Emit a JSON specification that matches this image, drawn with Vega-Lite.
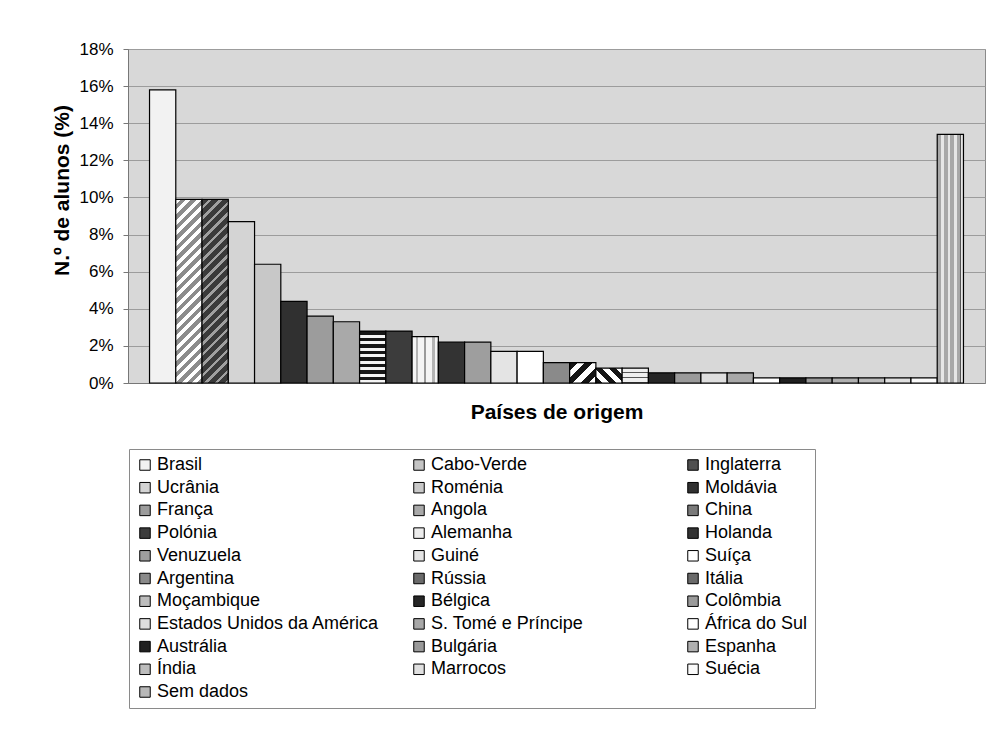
{
  "$schema": "https://vega.github.io/schema/vega-lite/v6.json",
  "width": 857,
  "height": 334,
  "autosize": "none",
  "padding": {"left": 128, "top": 49, "right": 3, "bottom": 348},
  "background": "white",
  "config": {
    "font": "Liberation Sans",
    "view": {"fill": "#d8d8d8", "stroke": "#8a8a8a", "strokeWidth": 1}
  },
  "data": {
    "values": [
      {"pais": "Brasil", "pct": 15.8},
      {"pais": "Cabo-Verde", "pct": 9.9},
      {"pais": "Inglaterra", "pct": 9.9},
      {"pais": "Ucrânia", "pct": 8.7},
      {"pais": "Roménia", "pct": 6.4},
      {"pais": "Moldávia", "pct": 4.4},
      {"pais": "França", "pct": 3.6},
      {"pais": "Angola", "pct": 3.3},
      {"pais": "China", "pct": 2.8},
      {"pais": "Polónia", "pct": 2.8},
      {"pais": "Alemanha", "pct": 2.5},
      {"pais": "Holanda", "pct": 2.2},
      {"pais": "Venuzuela", "pct": 2.2},
      {"pais": "Guiné", "pct": 1.7},
      {"pais": "Suíça", "pct": 1.7},
      {"pais": "Argentina", "pct": 1.1},
      {"pais": "Rússia", "pct": 1.1},
      {"pais": "Itália", "pct": 0.8},
      {"pais": "Moçambique", "pct": 0.8},
      {"pais": "Bélgica", "pct": 0.55},
      {"pais": "Colômbia", "pct": 0.55},
      {"pais": "Estados Unidos da América", "pct": 0.55},
      {"pais": "S. Tomé e Príncipe", "pct": 0.55},
      {"pais": "África do Sul", "pct": 0.28},
      {"pais": "Austrália", "pct": 0.28},
      {"pais": "Bulgária", "pct": 0.28},
      {"pais": "Espanha", "pct": 0.28},
      {"pais": "Índia", "pct": 0.28},
      {"pais": "Marrocos", "pct": 0.28},
      {"pais": "Suécia", "pct": 0.28},
      {"pais": "Sem dados", "pct": 13.4}
    ]
  },
  "mark": {"type": "bar", "stroke": "black", "strokeWidth": 1.2},
  "encoding": {
    "x": {
      "field": "pais",
      "type": "nominal",
      "sort": null,
      "scale": {"paddingInner": 0, "paddingOuter": 0.82},
      "axis": {
        "labels": false,
        "ticks": false,
        "domainColor": "#777777",
        "title": "Países de origem",
        "titleFont": "Liberation Sans",
        "titleFontSize": 21,
        "titleFontWeight": "bold",
        "titleColor": "black",
        "titlePadding": 18
      }
    },
    "y": {
      "field": "pct",
      "type": "quantitative",
      "scale": {"domain": [0, 18], "nice": false},
      "axis": {
        "values": [0, 2, 4, 6, 8, 10, 12, 14, 16, 18],
        "labelExpr": "datum.value + '%'",
        "labelFont": "Liberation Sans",
        "labelFontSize": 17,
        "labelColor": "black",
        "labelPadding": 10,
        "tickSize": 5,
        "tickColor": "#777777",
        "domainColor": "#777777",
        "gridColor": "#9c9c9c",
        "gridWidth": 1,
        "title": "N.º de alunos (%)",
        "titleFont": "Liberation Sans",
        "titleFontSize": 21,
        "titleFontWeight": "bold",
        "titleColor": "black",
        "titlePadding": 6,
        "titleY": 141
      }
    },
    "fill": {
      "condition": [
        {
          "test": "datum.pais === 'Cabo-Verde'",
          "value": {
            "gradient": "linear", "x1": 0, "y1": 0, "x2": 0.1604, "y2": 1.1203,
            "stops": [
              {"offset": 0, "color": "#ffffff"}, {"offset": 0.025, "color": "#ffffff"}, {"offset": 0.025, "color": "#8c8c8c"}, {"offset": 0.05, "color": "#8c8c8c"},
              {"offset": 0.05, "color": "#ffffff"}, {"offset": 0.075, "color": "#ffffff"}, {"offset": 0.075, "color": "#8c8c8c"}, {"offset": 0.1, "color": "#8c8c8c"},
              {"offset": 0.1, "color": "#ffffff"}, {"offset": 0.125, "color": "#ffffff"}, {"offset": 0.125, "color": "#8c8c8c"}, {"offset": 0.15, "color": "#8c8c8c"},
              {"offset": 0.15, "color": "#ffffff"}, {"offset": 0.175, "color": "#ffffff"}, {"offset": 0.175, "color": "#8c8c8c"}, {"offset": 0.2, "color": "#8c8c8c"},
              {"offset": 0.2, "color": "#ffffff"}, {"offset": 0.225, "color": "#ffffff"}, {"offset": 0.225, "color": "#8c8c8c"}, {"offset": 0.25, "color": "#8c8c8c"},
              {"offset": 0.25, "color": "#ffffff"}, {"offset": 0.275, "color": "#ffffff"}, {"offset": 0.275, "color": "#8c8c8c"}, {"offset": 0.3, "color": "#8c8c8c"},
              {"offset": 0.3, "color": "#ffffff"}, {"offset": 0.325, "color": "#ffffff"}, {"offset": 0.325, "color": "#8c8c8c"}, {"offset": 0.35, "color": "#8c8c8c"},
              {"offset": 0.35, "color": "#ffffff"}, {"offset": 0.375, "color": "#ffffff"}, {"offset": 0.375, "color": "#8c8c8c"}, {"offset": 0.4, "color": "#8c8c8c"},
              {"offset": 0.4, "color": "#ffffff"}, {"offset": 0.425, "color": "#ffffff"}, {"offset": 0.425, "color": "#8c8c8c"}, {"offset": 0.45, "color": "#8c8c8c"},
              {"offset": 0.45, "color": "#ffffff"}, {"offset": 0.475, "color": "#ffffff"}, {"offset": 0.475, "color": "#8c8c8c"}, {"offset": 0.5, "color": "#8c8c8c"},
              {"offset": 0.5, "color": "#ffffff"}, {"offset": 0.525, "color": "#ffffff"}, {"offset": 0.525, "color": "#8c8c8c"}, {"offset": 0.55, "color": "#8c8c8c"},
              {"offset": 0.55, "color": "#ffffff"}, {"offset": 0.575, "color": "#ffffff"}, {"offset": 0.575, "color": "#8c8c8c"}, {"offset": 0.6, "color": "#8c8c8c"},
              {"offset": 0.6, "color": "#ffffff"}, {"offset": 0.625, "color": "#ffffff"}, {"offset": 0.625, "color": "#8c8c8c"}, {"offset": 0.65, "color": "#8c8c8c"},
              {"offset": 0.65, "color": "#ffffff"}, {"offset": 0.675, "color": "#ffffff"}, {"offset": 0.675, "color": "#8c8c8c"}, {"offset": 0.7, "color": "#8c8c8c"},
              {"offset": 0.7, "color": "#ffffff"}, {"offset": 0.725, "color": "#ffffff"}, {"offset": 0.725, "color": "#8c8c8c"}, {"offset": 0.75, "color": "#8c8c8c"},
              {"offset": 0.75, "color": "#ffffff"}, {"offset": 0.775, "color": "#ffffff"}, {"offset": 0.775, "color": "#8c8c8c"}, {"offset": 0.8, "color": "#8c8c8c"},
              {"offset": 0.8, "color": "#ffffff"}, {"offset": 0.825, "color": "#ffffff"}, {"offset": 0.825, "color": "#8c8c8c"}, {"offset": 0.85, "color": "#8c8c8c"},
              {"offset": 0.85, "color": "#ffffff"}, {"offset": 0.875, "color": "#ffffff"}, {"offset": 0.875, "color": "#8c8c8c"}, {"offset": 0.9, "color": "#8c8c8c"},
              {"offset": 0.9, "color": "#ffffff"}, {"offset": 0.925, "color": "#ffffff"}, {"offset": 0.925, "color": "#8c8c8c"}, {"offset": 0.95, "color": "#8c8c8c"},
              {"offset": 0.95, "color": "#ffffff"}, {"offset": 0.975, "color": "#ffffff"}, {"offset": 0.975, "color": "#8c8c8c"}, {"offset": 1, "color": "#8c8c8c"}
            ]
          }
        },
        {
          "test": "datum.pais === 'Inglaterra'",
          "value": {
            "gradient": "linear", "x1": 0, "y1": 0, "x2": 0.1604, "y2": 1.1203,
            "stops": [
              {"offset": 0, "color": "#3a3a3a"}, {"offset": 0.032, "color": "#3a3a3a"}, {"offset": 0.032, "color": "#a0a0a0"}, {"offset": 0.05, "color": "#a0a0a0"},
              {"offset": 0.05, "color": "#3a3a3a"}, {"offset": 0.082, "color": "#3a3a3a"}, {"offset": 0.082, "color": "#a0a0a0"}, {"offset": 0.1, "color": "#a0a0a0"},
              {"offset": 0.1, "color": "#3a3a3a"}, {"offset": 0.132, "color": "#3a3a3a"}, {"offset": 0.132, "color": "#a0a0a0"}, {"offset": 0.15, "color": "#a0a0a0"},
              {"offset": 0.15, "color": "#3a3a3a"}, {"offset": 0.182, "color": "#3a3a3a"}, {"offset": 0.182, "color": "#a0a0a0"}, {"offset": 0.2, "color": "#a0a0a0"},
              {"offset": 0.2, "color": "#3a3a3a"}, {"offset": 0.232, "color": "#3a3a3a"}, {"offset": 0.232, "color": "#a0a0a0"}, {"offset": 0.25, "color": "#a0a0a0"},
              {"offset": 0.25, "color": "#3a3a3a"}, {"offset": 0.282, "color": "#3a3a3a"}, {"offset": 0.282, "color": "#a0a0a0"}, {"offset": 0.3, "color": "#a0a0a0"},
              {"offset": 0.3, "color": "#3a3a3a"}, {"offset": 0.332, "color": "#3a3a3a"}, {"offset": 0.332, "color": "#a0a0a0"}, {"offset": 0.35, "color": "#a0a0a0"},
              {"offset": 0.35, "color": "#3a3a3a"}, {"offset": 0.382, "color": "#3a3a3a"}, {"offset": 0.382, "color": "#a0a0a0"}, {"offset": 0.4, "color": "#a0a0a0"},
              {"offset": 0.4, "color": "#3a3a3a"}, {"offset": 0.432, "color": "#3a3a3a"}, {"offset": 0.432, "color": "#a0a0a0"}, {"offset": 0.45, "color": "#a0a0a0"},
              {"offset": 0.45, "color": "#3a3a3a"}, {"offset": 0.482, "color": "#3a3a3a"}, {"offset": 0.482, "color": "#a0a0a0"}, {"offset": 0.5, "color": "#a0a0a0"},
              {"offset": 0.5, "color": "#3a3a3a"}, {"offset": 0.532, "color": "#3a3a3a"}, {"offset": 0.532, "color": "#a0a0a0"}, {"offset": 0.55, "color": "#a0a0a0"},
              {"offset": 0.55, "color": "#3a3a3a"}, {"offset": 0.582, "color": "#3a3a3a"}, {"offset": 0.582, "color": "#a0a0a0"}, {"offset": 0.6, "color": "#a0a0a0"},
              {"offset": 0.6, "color": "#3a3a3a"}, {"offset": 0.632, "color": "#3a3a3a"}, {"offset": 0.632, "color": "#a0a0a0"}, {"offset": 0.65, "color": "#a0a0a0"},
              {"offset": 0.65, "color": "#3a3a3a"}, {"offset": 0.682, "color": "#3a3a3a"}, {"offset": 0.682, "color": "#a0a0a0"}, {"offset": 0.7, "color": "#a0a0a0"},
              {"offset": 0.7, "color": "#3a3a3a"}, {"offset": 0.732, "color": "#3a3a3a"}, {"offset": 0.732, "color": "#a0a0a0"}, {"offset": 0.75, "color": "#a0a0a0"},
              {"offset": 0.75, "color": "#3a3a3a"}, {"offset": 0.782, "color": "#3a3a3a"}, {"offset": 0.782, "color": "#a0a0a0"}, {"offset": 0.8, "color": "#a0a0a0"},
              {"offset": 0.8, "color": "#3a3a3a"}, {"offset": 0.832, "color": "#3a3a3a"}, {"offset": 0.832, "color": "#a0a0a0"}, {"offset": 0.85, "color": "#a0a0a0"},
              {"offset": 0.85, "color": "#3a3a3a"}, {"offset": 0.882, "color": "#3a3a3a"}, {"offset": 0.882, "color": "#a0a0a0"}, {"offset": 0.9, "color": "#a0a0a0"},
              {"offset": 0.9, "color": "#3a3a3a"}, {"offset": 0.932, "color": "#3a3a3a"}, {"offset": 0.932, "color": "#a0a0a0"}, {"offset": 0.95, "color": "#a0a0a0"},
              {"offset": 0.95, "color": "#3a3a3a"}, {"offset": 0.982, "color": "#3a3a3a"}, {"offset": 0.982, "color": "#a0a0a0"}, {"offset": 1, "color": "#a0a0a0"}
            ]
          }
        },
        {
          "test": "datum.pais === 'China'",
          "value": {
            "gradient": "linear", "x1": 0, "y1": 0, "x2": 0, "y2": 1,
            "stops": [
              {"offset": 0, "color": "#161616"}, {"offset": 0.069, "color": "#161616"}, {"offset": 0.069, "color": "#f4f4f4"}, {"offset": 0.125, "color": "#f4f4f4"},
              {"offset": 0.125, "color": "#161616"}, {"offset": 0.194, "color": "#161616"}, {"offset": 0.194, "color": "#f4f4f4"}, {"offset": 0.25, "color": "#f4f4f4"},
              {"offset": 0.25, "color": "#161616"}, {"offset": 0.319, "color": "#161616"}, {"offset": 0.319, "color": "#f4f4f4"}, {"offset": 0.375, "color": "#f4f4f4"},
              {"offset": 0.375, "color": "#161616"}, {"offset": 0.444, "color": "#161616"}, {"offset": 0.444, "color": "#f4f4f4"}, {"offset": 0.5, "color": "#f4f4f4"},
              {"offset": 0.5, "color": "#161616"}, {"offset": 0.569, "color": "#161616"}, {"offset": 0.569, "color": "#f4f4f4"}, {"offset": 0.625, "color": "#f4f4f4"},
              {"offset": 0.625, "color": "#161616"}, {"offset": 0.694, "color": "#161616"}, {"offset": 0.694, "color": "#f4f4f4"}, {"offset": 0.75, "color": "#f4f4f4"},
              {"offset": 0.75, "color": "#161616"}, {"offset": 0.819, "color": "#161616"}, {"offset": 0.819, "color": "#f4f4f4"}, {"offset": 0.875, "color": "#f4f4f4"},
              {"offset": 0.875, "color": "#161616"}, {"offset": 0.944, "color": "#161616"}, {"offset": 0.944, "color": "#f4f4f4"}, {"offset": 1, "color": "#f4f4f4"}
            ]
          }
        },
        {
          "test": "datum.pais === 'Alemanha'",
          "value": {
            "gradient": "linear", "x1": 0, "y1": 0, "x2": 1, "y2": 0,
            "stops": [
              {"offset": 0, "color": "#f4f4f4"}, {"offset": 0.14, "color": "#f4f4f4"}, {"offset": 0.14, "color": "#b4b4b4"}, {"offset": 0.24, "color": "#b4b4b4"},
              {"offset": 0.24, "color": "#f4f4f4"}, {"offset": 0.46, "color": "#f4f4f4"}, {"offset": 0.46, "color": "#9a9a9a"}, {"offset": 0.54, "color": "#9a9a9a"},
              {"offset": 0.54, "color": "#f4f4f4"}, {"offset": 0.76, "color": "#f4f4f4"}, {"offset": 0.76, "color": "#b4b4b4"}, {"offset": 0.86, "color": "#b4b4b4"},
              {"offset": 0.86, "color": "#f4f4f4"}, {"offset": 1, "color": "#f4f4f4"}
            ]
          }
        },
        {
          "test": "datum.pais === 'Rússia'",
          "value": {
            "gradient": "linear", "x1": 0, "y1": 0, "x2": 1.109, "y2": 0.86,
            "stops": [
              {"offset": 0, "color": "#151515"}, {"offset": 0.167, "color": "#151515"}, {"offset": 0.167, "color": "#ffffff"}, {"offset": 0.333, "color": "#ffffff"},
              {"offset": 0.333, "color": "#151515"}, {"offset": 0.5, "color": "#151515"}, {"offset": 0.5, "color": "#ffffff"}, {"offset": 0.667, "color": "#ffffff"},
              {"offset": 0.667, "color": "#151515"}, {"offset": 0.833, "color": "#151515"}, {"offset": 0.833, "color": "#ffffff"}, {"offset": 1, "color": "#ffffff"}
            ]
          }
        },
        {
          "test": "datum.pais === 'Itália'",
          "value": {
            "gradient": "linear", "x1": 0, "y1": 1, "x2": 1.187, "y2": 0.332,
            "stops": [
              {"offset": 0, "color": "#151515"}, {"offset": 0.167, "color": "#151515"}, {"offset": 0.167, "color": "#ffffff"}, {"offset": 0.333, "color": "#ffffff"},
              {"offset": 0.333, "color": "#151515"}, {"offset": 0.5, "color": "#151515"}, {"offset": 0.5, "color": "#ffffff"}, {"offset": 0.667, "color": "#ffffff"},
              {"offset": 0.667, "color": "#151515"}, {"offset": 0.833, "color": "#151515"}, {"offset": 0.833, "color": "#ffffff"}, {"offset": 1, "color": "#ffffff"}
            ]
          }
        },
        {
          "test": "datum.pais === 'Moçambique'",
          "value": {
            "gradient": "linear", "x1": 0, "y1": 0, "x2": 0, "y2": 1,
            "stops": [
              {"offset": 0, "color": "#eeeeee"}, {"offset": 0.233, "color": "#eeeeee"}, {"offset": 0.233, "color": "#555555"}, {"offset": 0.333, "color": "#555555"},
              {"offset": 0.333, "color": "#eeeeee"}, {"offset": 0.567, "color": "#eeeeee"}, {"offset": 0.567, "color": "#555555"}, {"offset": 0.667, "color": "#555555"},
              {"offset": 0.667, "color": "#eeeeee"}, {"offset": 0.9, "color": "#eeeeee"}, {"offset": 0.9, "color": "#555555"}, {"offset": 1, "color": "#555555"}
            ]
          }
        },
        {
          "test": "datum.pais === 'Sem dados'",
          "value": {
            "gradient": "linear", "x1": 0, "y1": 0, "x2": 1, "y2": 0,
            "stops": [
              {"offset": 0, "color": "#a8a8a8"}, {"offset": 0.15, "color": "#a8a8a8"}, {"offset": 0.15, "color": "#e6e6e6"}, {"offset": 0.25, "color": "#e6e6e6"},
              {"offset": 0.25, "color": "#a8a8a8"}, {"offset": 0.4, "color": "#a8a8a8"}, {"offset": 0.4, "color": "#e6e6e6"}, {"offset": 0.5, "color": "#e6e6e6"},
              {"offset": 0.5, "color": "#a8a8a8"}, {"offset": 0.65, "color": "#a8a8a8"}, {"offset": 0.65, "color": "#e6e6e6"}, {"offset": 0.75, "color": "#e6e6e6"},
              {"offset": 0.75, "color": "#a8a8a8"}, {"offset": 0.85, "color": "#a8a8a8"}, {"offset": 0.85, "color": "#555555"}, {"offset": 0.9, "color": "#555555"},
              {"offset": 0.9, "color": "#e6e6e6"}, {"offset": 1, "color": "#e6e6e6"}
            ]
          }
        }
      ],
      "field": "pais",
      "type": "nominal",
      "sort": null,
      "scale": {
        "domain": ["Brasil", "Cabo-Verde", "Inglaterra", "Ucrânia", "Roménia", "Moldávia", "França", "Angola", "China", "Polónia", "Alemanha", "Holanda", "Venuzuela", "Guiné", "Suíça", "Argentina", "Rússia", "Itália", "Moçambique", "Bélgica", "Colômbia", "Estados Unidos da América", "S. Tomé e Príncipe", "África do Sul", "Austrália", "Bulgária", "Espanha", "Índia", "Marrocos", "Suécia", "Sem dados"],
        "range": ["#f2f2f2", "#c4c4c4", "#505050", "#d4d4d4", "#c8c8c8", "#303030", "#9c9c9c", "#a9a9a9", "#7a7a7a", "#3c3c3c", "#ececec", "#333333", "#9e9e9e", "#e4e4e4", "#ffffff", "#8a8a8a", "#6a6a6a", "#6a6a6a", "#bdbdbd", "#262626", "#9a9a9a", "#dedede", "#a8a8a8", "#ffffff", "#202020", "#999999", "#b0b0b0", "#bcbcbc", "#e0e0e0", "#fafafa", "#b8b8b8"]
      },
      "legend": {
        "title": null,
        "orient": "none",
        "legendX": 1,
        "legendY": 400,
        "direction": "horizontal",
        "columns": 3,
        "gridAlign": "all",
        "symbolLimit": 0,
        "symbolType": "square",
        "symbolSize": 110,
        "symbolStrokeColor": "black",
        "symbolStrokeWidth": 1,
        "labelFont": "Liberation Sans",
        "labelFontSize": 18,
        "labelColor": "black",
        "labelLimit": 0,
        "labelOffset": 3,
        "rowPadding": 4.7,
        "columnPadding": 30,
        "padding": 7,
        "strokeColor": "#8a8a8a"
      }
    }
  }
}
